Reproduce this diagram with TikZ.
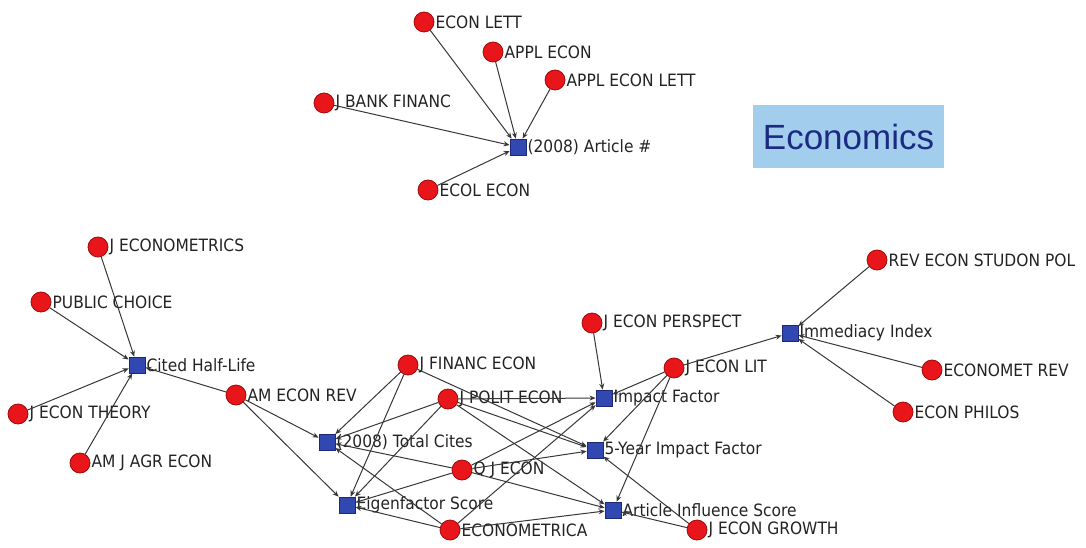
\documentclass[tikz,border=0pt]{standalone}
\usepackage{fontspec}
\setmainfont[FakeStretch=0.91]{DejaVu Sans}
\newfontfamily\headfont{Liberation Sans}
\usetikzlibrary{arrows.meta}

\tikzset{
  journal/.style={circle,draw={rgb,255:red,160;green,10;blue,10},fill={rgb,255:red,232;green,22;blue,26},line width=0.8pt,minimum size=20pt,inner sep=0pt},
  metric/.style={rectangle,draw={rgb,255:red,30;green,40;blue,120},fill={rgb,255:red,48;green,72;blue,176},line width=0.8pt,minimum size=16pt,inner sep=0pt},
  tag/.style={font=\fontsize{17}{18}\selectfont,text={rgb,255:red,35;green,35;blue,35},inner sep=1pt,label distance=0pt},
  link/.style={draw={rgb,255:red,55;green,55;blue,55},line width=1pt,-{Stealth[length=6pt,width=5pt]}},
}

\begin{document}
\begin{tikzpicture}[x=1pt,y=1pt,yscale=-1]
\useasboundingbox (0,0) rectangle (1086,548);

% Title box
\node [fill={rgb,255:red,162;green,205;blue,237},minimum width=191pt,minimum height=63pt,inner sep=0pt,
       text={rgb,255:red,28;green,42;blue,130},font=\headfont\fontsize{35}{35}\selectfont] (title) at (848.5,136.5) {Economics};

% Article count cluster
\node [metric,label={[tag]right:(2008) Article \#}] (article) at (518,147) {};
\node [journal,label={[tag]right:ECON LETT}] (econlett) at (424,22) {};
\node [journal,label={[tag]right:APPL ECON}] (applecon) at (493,52) {};
\node [journal,label={[tag]right:APPL ECON LETT}] (applecolett) at (555,80) {};
\node [journal,label={[tag]right:J BANK FINANC}] (jbankfinanc) at (324,103) {};
\node [journal,label={[tag]right:ECOL ECON}] (ecolecon) at (428,190) {};

% Half-life cluster
\node [metric,label={[tag]right:Cited Half-Life}] (halflife) at (137,365) {};
\node [journal,label={[tag]right:J ECONOMETRICS}] (jeconometrics) at (98,247) {};
\node [journal,label={[tag]right:PUBLIC CHOICE}] (publicchoice) at (41,302) {};
\node [journal,label={[tag]right:J ECON THEORY}] (jecontheory) at (18,414) {};
\node [journal,label={[tag]right:AM J AGR ECON}] (amjagrecon) at (80,463) {};
\node [journal,label={[tag]right:AM ECON REV}] (amecon) at (236,395) {};

% Citation metrics
\node [metric,label={[tag]right:(2008) Total Cites}] (totalcites) at (327,442) {};
\node [metric,label={[tag]right:Eigenfactor Score}] (eigen) at (347,505) {};
\node [metric,label={[tag]right:Impact Factor}] (impact) at (604,398) {};
\node [metric,label={[tag]right:5-Year Impact Factor}] (fiveyear) at (595,450) {};
\node [metric,label={[tag]right:Article Influence Score}] (articleinf) at (613,510) {};
\node [metric,label={[tag]right:Immediacy Index}] (immediacy) at (790,333) {};

\node [journal,label={[tag]right:J FINANC ECON}] (jfinancecon) at (408,365) {};
\node [journal,label={[tag]right:J POLIT ECON}] (jpolitecon) at (448,399) {};
\node [journal,label={[tag]right:Q J ECON}] (qjecon) at (462,470) {};
\node [journal,label={[tag]right:ECONOMETRICA}] (econometrica) at (450,530) {};
\node [journal,label={[tag]right:J ECON PERSPECT}] (jeconperspect) at (592,323) {};
\node [journal,label={[tag]right:J ECON LIT}] (jeconlit) at (674,368) {};
\node [journal,label={[tag]right:J ECON GROWTH}] (jecongrowth) at (697,530) {};
\node [journal,label={[tag]right:REV ECON STUDON POL}] (reveconstud) at (877,260) {};
\node [journal,label={[tag]right:ECONOMET REV}] (economet) at (932,370) {};
\node [journal,label={[tag]right:ECON PHILOS}] (econphilos) at (903,412) {};

% Links into (2008) Article #
\draw [link] (econlett) -- (article);
\draw [link] (applecon) -- (article);
\draw [link] (applecolett) -- (article);
\draw [link] (jbankfinanc) -- (article);
\draw [link] (ecolecon) -- (article);

% Links into Cited Half-Life
\draw [link] (jeconometrics) -- (halflife);
\draw [link] (publicchoice) -- (halflife);
\draw [link] (jecontheory) -- (halflife);
\draw [link] (amjagrecon) -- (halflife);
\draw [link] (amecon) -- (halflife);

% Links into (2008) Total Cites
\draw [link] (amecon) -- (totalcites);
\draw [link] (jfinancecon) -- (totalcites);
\draw [link] (jpolitecon) -- (totalcites);
\draw [link] (qjecon) -- (totalcites);
\draw [link] (econometrica) -- (totalcites);

% Links into Eigenfactor Score
\draw [link] (amecon) -- (eigen);
\draw [link] (jfinancecon) -- (eigen);
\draw [link] (jpolitecon) -- (eigen);
\draw [link] (qjecon) -- (eigen);
\draw [link] (econometrica) -- (eigen);

% Links into Impact Factor
\draw [link] (jeconperspect) -- (impact);
\draw [link] (jpolitecon) -- (impact);
\draw [link] (qjecon) -- (impact);
\draw [link] (econometrica) -- (impact);
\draw [link] (jeconlit) -- (impact);

% Links into 5-Year Impact Factor
\draw [link] (jfinancecon) -- (fiveyear);
\draw [link] (jpolitecon) -- (fiveyear);
\draw [link] (qjecon) -- (fiveyear);
\draw [link] (jeconlit) -- (fiveyear);
\draw [link] (jecongrowth) -- (fiveyear);

% Links into Article Influence Score
\draw [link] (jpolitecon) -- (articleinf);
\draw [link] (qjecon) -- (articleinf);
\draw [link] (econometrica) -- (articleinf);
\draw [link] (jeconlit) -- (articleinf);
\draw [link] (jecongrowth) -- (articleinf);

% Links into Immediacy Index
\draw [link] (reveconstud) -- (immediacy);
\draw [link] (economet) -- (immediacy);
\draw [link] (econphilos) -- (immediacy);
\draw [link] (jeconlit) -- (immediacy);

\end{tikzpicture}
\end{document}
